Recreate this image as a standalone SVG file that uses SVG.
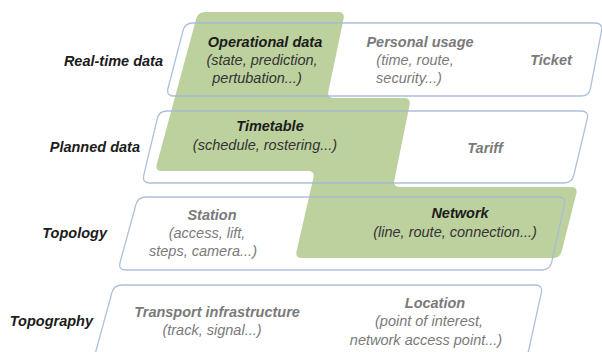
<svg xmlns="http://www.w3.org/2000/svg" width="602" height="352" viewBox="0 0 602 352">
<style>
.layer{fill:none;stroke:#a3b9d6;stroke-width:1.3;stroke-opacity:0.9}
.green{fill:#bdd19f}
text{font-family:"Liberation Sans",Arial,sans-serif;font-size:14.5px;font-style:italic}
.b{font-weight:bold}
.dk{fill:#1c1c1c}
.md{fill:#333333}
.gr{fill:#7a7a7a}
.m{text-anchor:middle}
.e{text-anchor:end}
</style>
<rect width="602" height="352" fill="#ffffff"/>
<g id="operational-planned-network-region">
<path class="green" d="M205,12 L338,12 Q345,12 343.6,18.8 L328.4,91.2 Q327,98 334,98 L404,98 Q411,98 409.6,104.9 L394.4,180.1 Q393,187 400,187 L571,187 Q578,187 576.3,193.8 L561.7,251.2 Q560,258 553,258 L302,258 Q295,258 296.6,251.2 L313.4,177.8 Q315,171 308,171 L162,171 Q155,171 156.8,164.2 L196.2,18.8 Q198,12 205,12 Z"/>
</g>
<g id="layer-realtime">
<path class="layer" d="M193,23 L595,23 Q603,23 601.5,30.9 L590.5,88.1 Q589,96 581,96 L174,96 Q166,96 168,88.3 L183,30.7 Q185,23 193,23 Z"/>
<text class="b dk e" x="163" y="66">Real-time data</text>
</g>
<g id="layer-planned">
<path class="layer" d="M167,111 L581,111 Q589,111 587.2,118.8 L573.8,175.2 Q572,183 564,183 L150,183 Q142,183 143.8,175.2 L157.2,118.8 Q159,111 167,111 Z"/>
<text class="b dk e" x="140" y="152">Planned data</text>
</g>
<g id="layer-topology">
<path class="layer" d="M146,197 L558,197 Q566,197 564.3,204.8 L551.7,262.2 Q550,270 542,270 L126,270 Q118,270 120.1,262.3 L135.9,204.7 Q138,197 146,197 Z"/>
<text class="b dk e" x="107" y="238">Topology</text>
</g>
<g id="layer-topography">
<path class="layer" d="M122,285 L535,285 Q543,285 541.3,292.8 L528.7,350.2 Q527,358 519,358 L102,358 Q94,358 96.1,350.3 L111.9,292.7 Q114,285 122,285 Z"/>
<text class="b dk e" x="93" y="326">Topography</text>
</g>
<g id="node-operational">
<text class="b dk m" x="265" y="47">Operational data</text>
<text class="md m" x="262" y="65">(state, prediction,</text>
<text class="md m" x="257" y="83">pertubation...)</text>
</g>
<g id="node-personal">
<text class="b gr m" x="420" y="47">Personal usage</text>
<text class="gr m" x="415" y="65">(time, route,</text>
<text class="gr m" x="409" y="83">security...)</text>
</g>
<g id="node-ticket">
<text class="b gr m" x="551" y="65">Ticket</text>
</g>
<g id="node-timetable">
<text class="b dk m" x="270" y="131">Timetable</text>
<text class="md m" x="265" y="150">(schedule, rostering...)</text>
</g>
<g id="node-tariff">
<text class="b gr m" x="485" y="153">Tariff</text>
</g>
<g id="node-station">
<text class="b gr m" x="212" y="220">Station</text>
<text class="gr m" x="207" y="238">(access, lift,</text>
<text class="gr m" x="203" y="256">steps, camera...)</text>
</g>
<g id="node-network">
<text class="b dk m" x="460" y="218">Network</text>
<text class="md m" x="455" y="237">(line, route, connection...)</text>
</g>
<g id="node-transport">
<text class="b gr m" x="217" y="317">Transport infrastructure</text>
<text class="gr m" x="212" y="335">(track, signal...)</text>
</g>
<g id="node-location">
<text class="b gr m" x="435" y="308">Location</text>
<text class="gr m" x="429" y="326">(point of interest,</text>
<text class="gr m" x="426" y="345">network access point...)</text>
</g>
</svg>
